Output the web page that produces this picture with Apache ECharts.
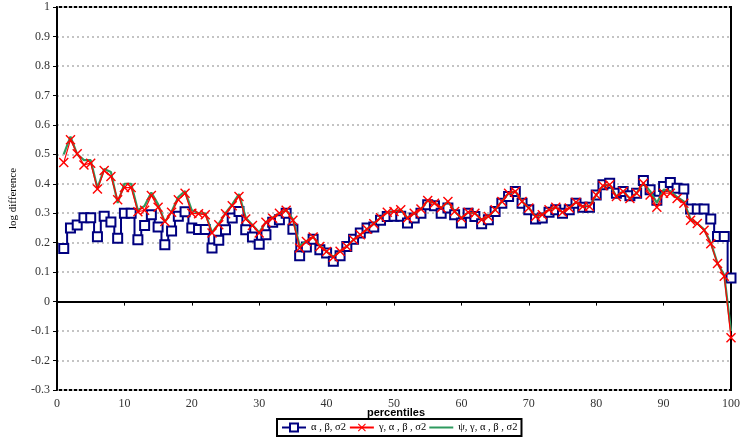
<!DOCTYPE html>
<html>
<head>
<meta charset="utf-8">
<script src="https://cdn.jsdelivr.net/npm/echarts@6/dist/echarts.min.js"></script>
<style>
  html, body { margin: 0; padding: 0; background: #fff; }
  #chart { width: 743px; height: 445px; }
</style>
</head>
<body>
<div id="chart"></div>
<script>
const percentiles = [
  1, 2, 3, 4, 5, 6, 7, 8, 9, 10, 11, 12, 13, 14, 15, 16, 17, 18, 19, 20,
  21, 22, 23, 24, 25, 26, 27, 28, 29, 30, 31, 32, 33, 34, 35, 36, 37, 38, 39, 40,
  41, 42, 43, 44, 45, 46, 47, 48, 49, 50, 51, 52, 53, 54, 55, 56, 57, 58, 59, 60,
  61, 62, 63, 64, 65, 66, 67, 68, 69, 70, 71, 72, 73, 74, 75, 76, 77, 78, 79, 80,
  81, 82, 83, 84, 85, 86, 87, 88, 89, 90, 91, 92, 93, 94, 95, 96, 97, 98, 99, 100
]

// α , β, σ2
const seriesA = [
  0.18, 0.25, 0.26, 0.285, 0.285, 0.22, 0.29, 0.27, 0.215, 0.30,
  0.30, 0.21, 0.258, 0.295, 0.253, 0.193, 0.24, 0.29, 0.305, 0.25,
  0.245, 0.245, 0.182, 0.208, 0.244, 0.284, 0.306, 0.244, 0.219, 0.195,
  0.227, 0.269, 0.278, 0.30, 0.246, 0.156, 0.185, 0.212, 0.176, 0.165,
  0.137, 0.156, 0.187, 0.212, 0.233, 0.25, 0.253, 0.276, 0.289, 0.29,
  0.29, 0.267, 0.284, 0.30, 0.329, 0.325, 0.30, 0.318, 0.295, 0.267,
  0.30, 0.289, 0.264, 0.278, 0.306, 0.334, 0.357, 0.374, 0.334, 0.312,
  0.28, 0.284, 0.303, 0.312, 0.30, 0.312, 0.334, 0.32, 0.32, 0.362,
  0.397, 0.402, 0.368, 0.374, 0.359, 0.368, 0.411, 0.38, 0.344, 0.391,
  0.404, 0.385, 0.382, 0.314, 0.314, 0.314, 0.28, 0.221, 0.221, 0.08
]

// γ, α , β , σ2
const seriesB = [
  0.472, 0.549, 0.502, 0.464, 0.47, 0.382, 0.445, 0.425, 0.346, 0.387,
  0.387, 0.305, 0.31, 0.36, 0.32, 0.272, 0.303, 0.346, 0.368, 0.30,
  0.298, 0.295, 0.233, 0.261, 0.298, 0.325, 0.357, 0.28, 0.258, 0.233,
  0.269, 0.283, 0.30, 0.31, 0.276, 0.182, 0.204, 0.219, 0.187, 0.17,
  0.151, 0.171, 0.187, 0.21, 0.227, 0.246, 0.264, 0.285, 0.303, 0.306,
  0.312, 0.284, 0.30, 0.314, 0.343, 0.334, 0.318, 0.34, 0.306, 0.284,
  0.303, 0.30, 0.278, 0.289, 0.312, 0.34, 0.368, 0.374, 0.34, 0.318,
  0.289, 0.295, 0.312, 0.32, 0.303, 0.318, 0.337, 0.323, 0.323, 0.362,
  0.393, 0.397, 0.357, 0.374, 0.35, 0.368, 0.402, 0.362, 0.32, 0.368,
  0.368, 0.35, 0.334, 0.276, 0.265, 0.242, 0.196, 0.129, 0.086, -0.123
]

// ψ, γ, α , β , σ2
const seriesC = [
  0.50, 0.56, 0.50, 0.48, 0.48, 0.385, 0.45, 0.44, 0.335, 0.40,
  0.40, 0.31, 0.325, 0.37, 0.33, 0.27, 0.305, 0.355, 0.375, 0.31,
  0.30, 0.30, 0.235, 0.265, 0.30, 0.33, 0.365, 0.285, 0.26, 0.235,
  0.27, 0.285, 0.30, 0.31, 0.28, 0.19, 0.205, 0.22, 0.19, 0.17,
  0.152, 0.171, 0.187, 0.21, 0.227, 0.246, 0.264, 0.285, 0.303, 0.306,
  0.312, 0.284, 0.30, 0.314, 0.343, 0.334, 0.318, 0.34, 0.306, 0.284,
  0.303, 0.30, 0.278, 0.289, 0.312, 0.34, 0.368, 0.374, 0.34, 0.318,
  0.289, 0.295, 0.312, 0.32, 0.303, 0.318, 0.337, 0.323, 0.323, 0.362,
  0.393, 0.397, 0.357, 0.374, 0.35, 0.368, 0.402, 0.375, 0.335, 0.38,
  0.375, 0.355, 0.34, 0.28, 0.265, 0.245, 0.20, 0.13, 0.09, -0.10
]

const seriesNames = ['α , β, σ2', 'γ, α , β , σ2', 'ψ, γ, α , β , σ2']

const X_MARK = 'path://M0,1 L1,0 L5,4 L9,0 L10,1 L6,5 L10,9 L9,10 L5,6 L1,10 L0,9 L4,5 Z'
// plain line for the legend, padded so the path box stays 24x10
const LINE_ICON = 'path://M0,0 L0,0 M0,4 L24,4 L24,6 L0,6 Z M24,10 L24,10'
const serif = '"Liberation Serif", "DejaVu Serif", serif'

const pairs = vals => percentiles.map((p, i) => [p, vals[i]])

const chart = echarts.init(document.getElementById('chart'))
chart.setOption({
  animation: false,
  title: {
    text: 'percentiles',
    left: 367,
    top: 407,
    padding: 0,
    textStyle: { fontFamily: '"Liberation Sans", Arial, sans-serif', fontSize: 11, fontWeight: 'bold', color: '#000' },
  },
  legend: {
    data: [
      { name: seriesNames[0] },
      { name: seriesNames[1] },
      { name: seriesNames[2], icon: LINE_ICON },
    ],
    left: 277,
    top: 419,
    orient: 'horizontal',
    borderColor: '#000',
    borderWidth: 2,
    padding: [3, 4, 3, 4],
    itemGap: 3,
    itemWidth: 24,
    itemHeight: 10,
    textStyle: { fontFamily: serif, fontSize: 10.5, color: '#000' },
  },
  grid: {
    left: 54, right: 9, top: 7, bottom: 55,
    show: true, borderColor: '#000', borderWidth: 2,
  },
  xAxis: {
    type: 'value',
    min: 0, max: 100, interval: 10,
    axisLine: { onZero: true, lineStyle: { color: '#000', width: 2 } },
    axisTick: { show: true, length: 4, lineStyle: { color: '#000' } },
    axisLabel: { color: '#333', fontFamily: serif, fontSize: 12, margin: 8 },
    splitLine: { show: false },
  },
  yAxis: {
    type: 'value',
    min: -0.3, max: 1, interval: 0.1,
    name: 'log difference',
    nameLocation: 'middle',
    nameGap: 38,
    nameTextStyle: { fontFamily: serif, fontSize: 11, color: '#000' },
    axisLine: { show: true, lineStyle: { color: '#000', width: 2 } },
    axisTick: { show: true, length: 4, lineStyle: { color: '#000' } },
    axisLabel: {
      color: '#333', fontFamily: serif, fontSize: 12, margin: 7,
      formatter: v => String(Math.round(v * 10) / 10),
    },
    splitLine: { show: true, lineStyle: { color: '#c4c4c4', type: [2, 3], width: 2 } },
  },
  series: [
    {
      name: seriesNames[0],
      type: 'line',
      step: 'middle',
      data: pairs(seriesA),
      symbol: 'emptyRect',
      symbolSize: 9,
      color: '#000080',
      lineStyle: { color: '#000080', width: 2 },
      itemStyle: { color: '#000080', borderColor: '#000080', borderWidth: 2 },
      z: 2,
    },
    {
      name: seriesNames[1],
      type: 'line',
      data: pairs(seriesB),
      symbol: X_MARK,
      symbolSize: 10,
      color: '#ff0000',
      lineStyle: { color: '#ff0000', width: 1.2 },
      itemStyle: { color: '#ff0000', borderWidth: 0 },
      z: 4,
    },
    {
      name: seriesNames[2],
      type: 'line',
      data: pairs(seriesC),
      showSymbol: false,
      symbol: 'none',
      color: '#2e9a5e',
      lineStyle: { color: '#2e9a5e', width: 2.2 },
      itemStyle: { color: '#2e9a5e' },
      z: 3,
    },
  ],
})
</script>
</body>
</html>
